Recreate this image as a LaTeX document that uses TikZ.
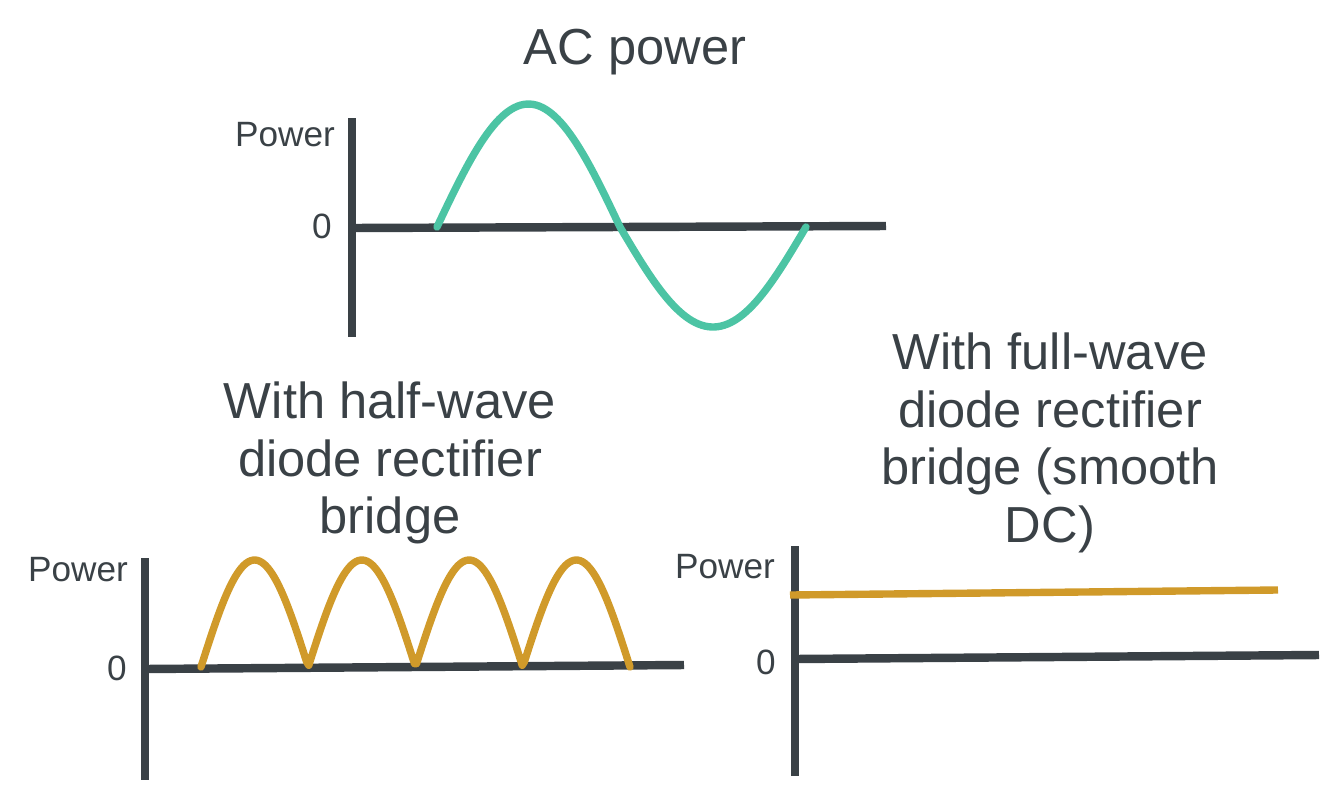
\documentclass[tikz,border=0pt]{standalone}
\usepackage{fontspec}
\setmainfont{Liberation Sans}
\usetikzlibrary{positioning}
\definecolor{axisgray}{HTML}{3A4146}
\definecolor{acteal}{HTML}{4CC4A4}
\definecolor{dcorange}{HTML}{D09A2A}

\begin{document}
\begin{tikzpicture}[x=0.01cm,y=-0.01cm,line cap=round,line join=round]
  \tikzstyle{axis}=[draw=axisgray,line width=2.4pt,line cap=butt]
  \tikzstyle{wave}=[line width=2.1pt]
  \tikzstyle{title}=[text=axisgray,font=\fontsize{14.4}{16.4}\selectfont,align=center]
  \tikzstyle{tick}=[text=axisgray,font=\fontsize{10}{12}\selectfont]

  \useasboundingbox (0,0) rectangle (1341,784);

  % AC power
  \node[title] (t1) at (635,52) {AC power};
  \coordinate (y1a) at (352,118);
  \coordinate (y1b) at (352,337);
  \coordinate (x1a) at (352,228);
  \coordinate (x1b) at (886,226);
  \draw[axis] (y1a) -- (y1b);
  \draw[axis] (x1a) -- (x1b);
  \node[tick] (p1) at (285,135) {Power};
  \node[tick] (z1) at (322,226) {0};
  \draw[wave,acteal] plot[domain=0:180,samples=60] ({437+\x/180*183},{227-123*sin(\x)})
    -- plot[domain=180:360,samples=60] ({620+(\x-180)/180*186},{227-100*sin(\x)});

  % half-wave
  \node[title] (t2) at (390,463) {With half-wave\\diode rectifier\\bridge};
  \coordinate (y2a) at (145,558);
  \coordinate (y2b) at (145,780);
  \coordinate (x2a) at (145,669);
  \coordinate (x2b) at (684,665);
  \draw[axis] (y2a) -- (y2b);
  \draw[axis] (x2a) -- (x2b);
  \node[tick] (p2) at (78,570) {Power};
  \node[tick] (z2) at (117,668) {0};
  \draw[wave,dcorange] plot[domain=0:720,samples=200] ({201+\x/720*429},{667-107*abs(sin(\x))});

  % full-wave
  \node[title] (t3) at (1050,443) {With full-wave\\diode rectifier\\bridge (smooth\\DC)};
  \coordinate (y3a) at (795,546);
  \coordinate (y3b) at (795,776);
  \coordinate (x3a) at (795,659);
  \coordinate (x3b) at (1319,655);
  \draw[axis] (y3a) -- (y3b);
  \draw[axis] (x3a) -- (x3b);
  \node[tick] (p3) at (725,567) {Power};
  \node[tick] (z3) at (766,662) {0};
  \coordinate (dca) at (790,595);
  \coordinate (dcb) at (1278,590);
  \draw[wave,dcorange,line cap=butt] (dca) -- (dcb);
\end{tikzpicture}
\end{document}
